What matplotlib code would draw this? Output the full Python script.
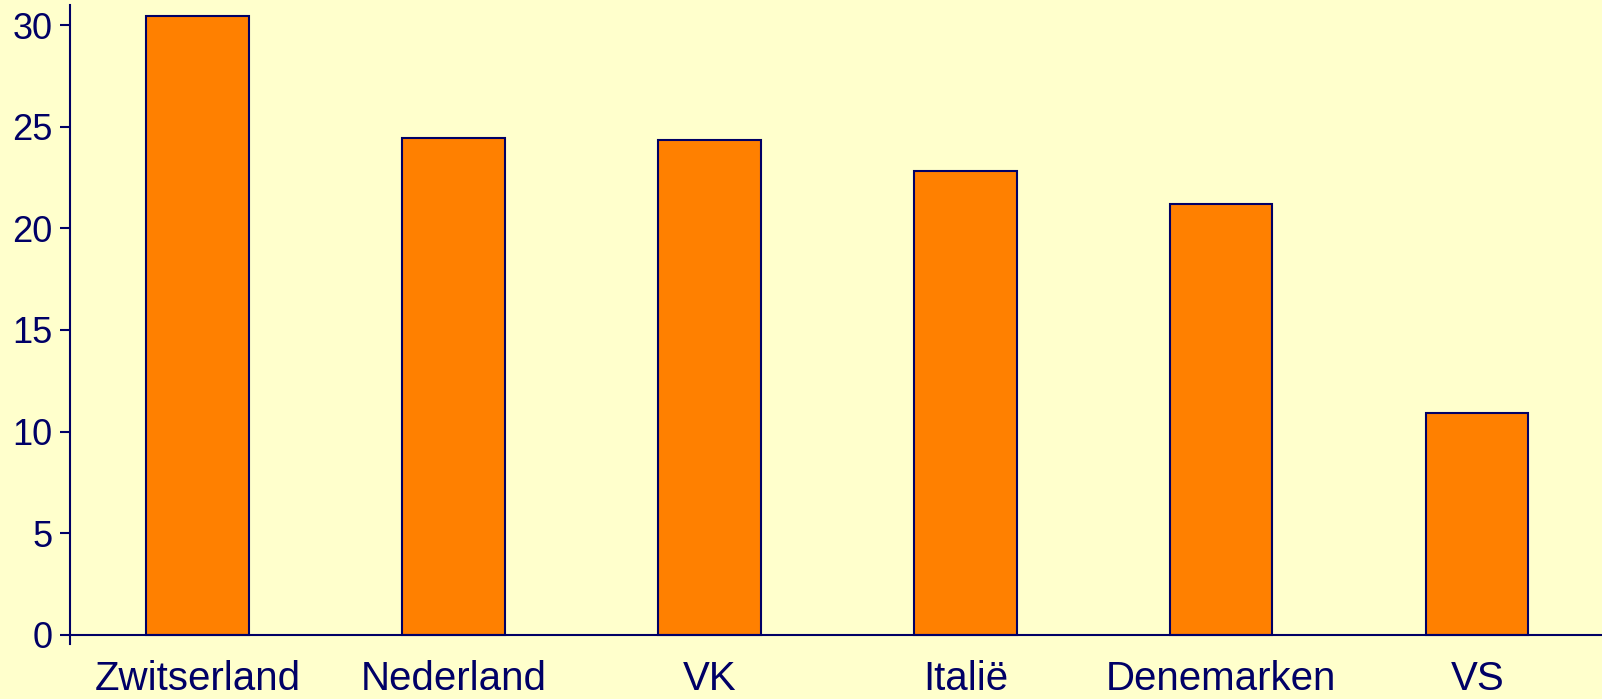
import numpy as np
import matplotlib
matplotlib.use('Agg')
import matplotlib.pyplot as plt

plt.rcParams['font.family'] = ['Liberation Sans', 'DejaVu Sans']

# data
landen = ['Zwitserland', 'Nederland', 'VK', 'Italië', 'Denemarken', 'VS']
waarden = [30.45, 24.46, 24.37, 22.83, 21.18, 10.93]
yticks = [0, 5, 10, 15, 20, 25, 30]

bg = '#FFFFCC'
navy = '#000066'

fig = plt.figure(figsize=(16.02, 6.99), dpi=100, facecolor=bg)
ax = fig.add_axes([0.0434, 0.092 - 9.3/699, 1.002 - 0.0434, 0.9928 - 0.092 + 9.3/699])
ax.set_facecolor(bg)

x = np.arange(len(landen))
ax.bar(x, waarden, width=0.4, color='#FF8000', edgecolor=navy, linewidth=1.5, zorder=3)

ax.set_xlim(-0.5, len(landen) - 0.5)
ax.set_ylim(-0.46, 31)
ax.set_yticks(yticks)
ax.set_xticks(x)
ax.set_xticklabels(landen)

for s in ['top', 'right']:
    ax.spines[s].set_visible(False)
ax.spines['bottom'].set_position(('data', 0))
for s in ['left', 'bottom']:
    ax.spines[s].set_color(navy)
    ax.spines[s].set_linewidth(1.5)
ax.spines['bottom'].set_zorder(4)

ax.tick_params(axis='y', length=7, width=1.5, color=navy, labelcolor=navy,
               labelsize=26, pad=5)
ax.tick_params(axis='x', length=0, labelcolor=navy, labelsize=29, pad=18)

fig.savefig('out.png', dpi=100, facecolor=bg)
